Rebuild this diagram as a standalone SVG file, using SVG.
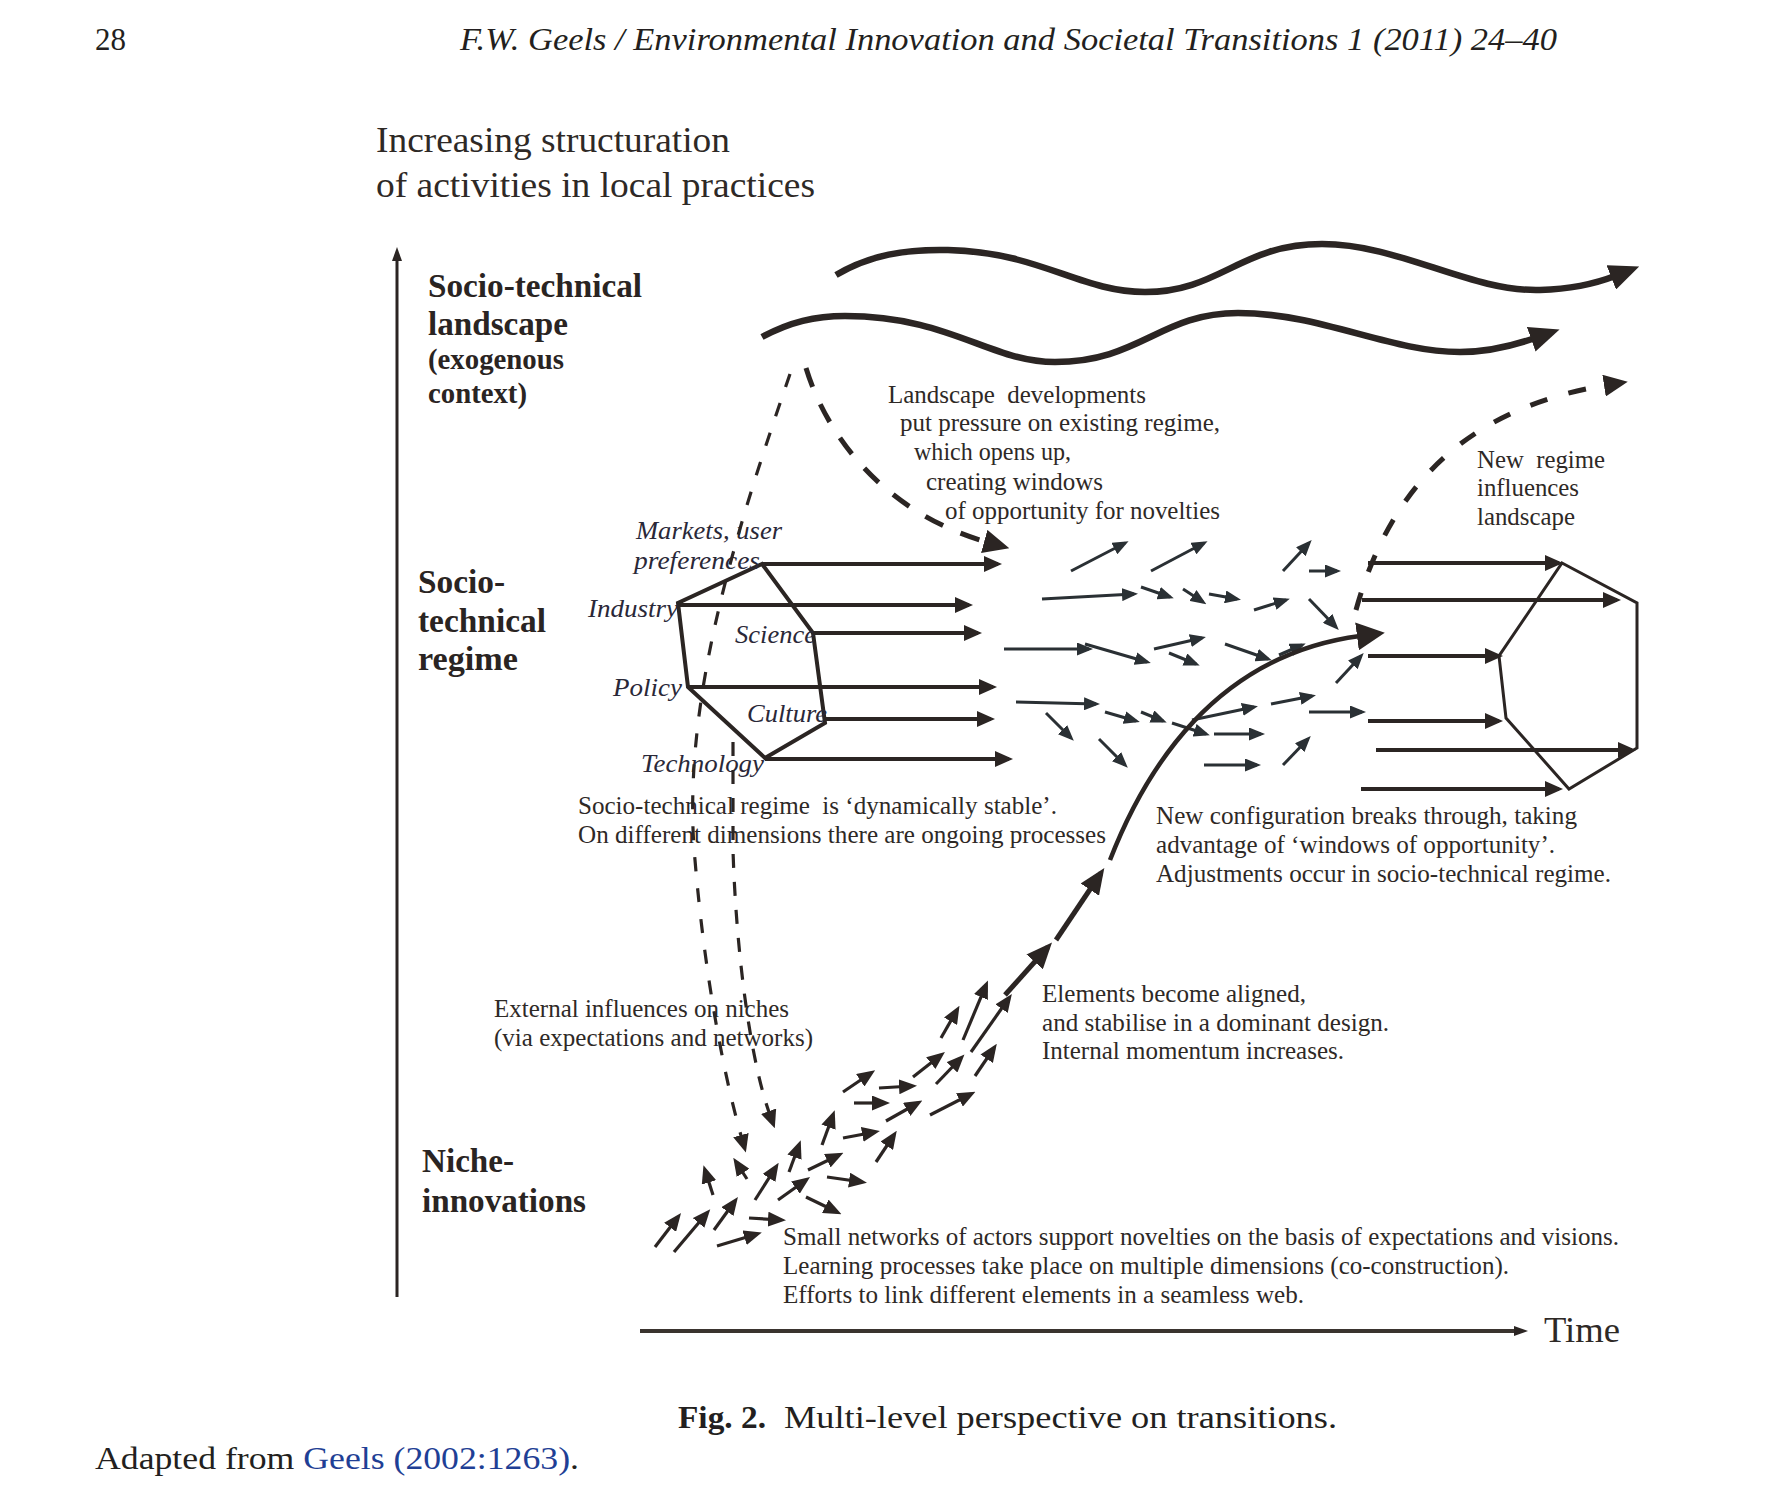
<svg xmlns="http://www.w3.org/2000/svg" width="1788" height="1503" viewBox="0 0 1788 1503">
<style>
text{font-family:"Liberation Serif","Times New Roman",serif;fill:#2e2926}
.hd{font-size:31px;fill:#231f20}
.ti{font-size:36px}
.bl{font-size:33px;font-weight:bold;fill:#2a2422}
.bs{font-size:29px;font-weight:bold;fill:#2a2422}
.lb{font-size:25px}
.it{font-size:25px;font-style:italic;fill:#2a2838}
.ln{stroke:#2b2523;stroke-width:4;fill:none}
.hx{stroke:#2b2523;stroke-width:4;fill:none;stroke-linejoin:miter}
.hx2{stroke:#2b2523;stroke-width:3;fill:none}
.ra{stroke:#2b2523;stroke-width:4;fill:none;marker-end:url(#ah)}
.sa{stroke:#2a3034;stroke-width:3;fill:none;marker-end:url(#sm)}
.na{stroke:#2b2523;stroke-width:3.2;fill:none;marker-end:url(#nm)}
.ta{stroke:#2b2523;stroke-width:5;fill:none;marker-end:url(#tm)}
.wv{stroke:#2b2523;stroke-width:6.5;fill:none;stroke-linecap:butt;marker-end:url(#wm)}
.dA{stroke:#2b2523;stroke-width:3.2;fill:none;stroke-dasharray:14 17;marker-end:url(#dm)}
.dW{stroke:#2b2523;stroke-width:5;fill:none;stroke-dasharray:20 19;marker-end:url(#bw)}
.dU{stroke:#2b2523;stroke-width:5;fill:none;stroke-dasharray:18 22;marker-end:url(#bu)}
</style>
<defs>
<marker id="ah" viewBox="0 0 18 16" markerUnits="userSpaceOnUse" markerWidth="18" markerHeight="16" refX="14" refY="8" orient="auto"><path d="M0,0 L18,8 L0,16 z" fill="#2b2523"/></marker>
<marker id="sm" viewBox="0 0 16 13" markerUnits="userSpaceOnUse" markerWidth="16" markerHeight="13" refX="12" refY="6.5" orient="auto"><path d="M0,0 L16,6.5 L0,13 z" fill="#2a3034"/></marker>
<marker id="nm" viewBox="0 0 18 15" markerUnits="userSpaceOnUse" markerWidth="18" markerHeight="15" refX="13" refY="7.5" orient="auto"><path d="M0,0 L18,7.5 L0,15 z" fill="#2b2523"/></marker>
<marker id="tm" viewBox="0 0 26 22" markerUnits="userSpaceOnUse" markerWidth="26" markerHeight="22" refX="20" refY="11" orient="auto"><path d="M0,0 L26,11 L0,22 z" fill="#2b2523"/></marker>
<marker id="cm" viewBox="0 0 28 28" markerUnits="userSpaceOnUse" markerWidth="28" markerHeight="28" refX="3" refY="14" orient="auto"><path d="M0,0 L28,14 L0,28 z" fill="#2b2523"/></marker>
<marker id="wm" viewBox="0 0 30 26" markerUnits="userSpaceOnUse" markerWidth="30" markerHeight="26" refX="4" refY="13" orient="auto"><path d="M0,0 L30,13 L0,26 z" fill="#2b2523"/></marker>
<marker id="dm" viewBox="0 0 18 16" markerUnits="userSpaceOnUse" markerWidth="18" markerHeight="16" refX="4" refY="8" orient="auto"><path d="M0,0 L18,8 L0,16 z" fill="#2b2523"/></marker>
<marker id="bw" viewBox="0 0 26 24" markerUnits="userSpaceOnUse" markerWidth="26" markerHeight="24" refX="6" refY="12" orient="auto"><path d="M0,0 L26,12 L0,24 z" fill="#2b2523"/></marker>
<marker id="bu" viewBox="0 0 24 22" markerUnits="userSpaceOnUse" markerWidth="24" markerHeight="22" refX="4" refY="11" orient="auto"><path d="M0,0 L24,11 L0,22 z" fill="#2b2523"/></marker>
<marker id="ax" viewBox="0 0 14 10" markerUnits="userSpaceOnUse" markerWidth="14" markerHeight="10" refX="3" refY="5" orient="auto"><path d="M0,0 L14,5 L0,10 z" fill="#2b2523"/></marker>
</defs>

<g id="page-header">
<text class="hd" x="95" y="50">28</text>
<text class="hd" x="460" y="50" font-style="italic" textLength="1097" lengthAdjust="spacingAndGlyphs">F.W. Geels / Environmental Innovation and Societal Transitions 1 (2011) 24–40</text>
</g>

<g id="axis-title">
<text class="ti" x="376" y="152" textLength="354" lengthAdjust="spacingAndGlyphs">Increasing structuration</text>
<text class="ti" x="376" y="197" textLength="439" lengthAdjust="spacingAndGlyphs">of activities in local practices</text>
</g>

<g id="level-landscape">
<text class="bl" x="428" y="297" textLength="214" lengthAdjust="spacingAndGlyphs">Socio-technical</text>
<text class="bl" x="428" y="335" textLength="140" lengthAdjust="spacingAndGlyphs">landscape</text>
<text class="bs" x="428" y="369" textLength="136" lengthAdjust="spacingAndGlyphs">(exogenous</text>
<text class="bs" x="428" y="403" textLength="99" lengthAdjust="spacingAndGlyphs">context)</text>
</g>

<g id="level-regime">
<text class="bl" x="418" y="593" textLength="87" lengthAdjust="spacingAndGlyphs">Socio-</text>
<text class="bl" x="418" y="632" textLength="128" lengthAdjust="spacingAndGlyphs">technical</text>
<text class="bl" x="418" y="670" textLength="100" lengthAdjust="spacingAndGlyphs">regime</text>
</g>

<g id="level-niche">
<text class="bl" x="422" y="1172" textLength="92" lengthAdjust="spacingAndGlyphs">Niche-</text>
<text class="bl" x="422" y="1212" textLength="164" lengthAdjust="spacingAndGlyphs">innovations</text>
</g>

<g id="landscape-waves">
<path class="wv" d="M836,275 C870,255 905,249 948,250 C1040,252 1080,292 1145,292 C1220,292 1240,244 1322,244 C1400,244 1470,292 1540,290 C1570,289 1592,285 1615,276"/>
<path class="wv" d="M762,337 C790,322 815,316 845,316 C950,316 990,362 1055,362 C1140,362 1160,313 1238,313 C1320,313 1390,352 1460,352 C1490,352 1515,345 1535,338"/>
</g>

<g id="regime-hexagon">
<polygon class="hx" points="762,564 813,633 825,723 765,758 688,687 678,603"/>
<text class="it" x="636" y="539" textLength="146" lengthAdjust="spacingAndGlyphs">Markets, user</text>
<text class="it" x="634" y="569" textLength="126" lengthAdjust="spacingAndGlyphs">preferences</text>
<text class="it" x="588" y="617" textLength="90" lengthAdjust="spacingAndGlyphs">Industry</text>
<text class="it" x="735" y="643" textLength="81" lengthAdjust="spacingAndGlyphs">Science</text>
<text class="it" x="613" y="696" textLength="69" lengthAdjust="spacingAndGlyphs">Policy</text>
<text class="it" x="747" y="722" textLength="80" lengthAdjust="spacingAndGlyphs">Culture</text>
<text class="it" x="641" y="772" textLength="123" lengthAdjust="spacingAndGlyphs">Technology</text>
</g>

<g id="new-regime-hexagon">
<polygon class="hx2" points="1562,563 1637,603 1637,748 1569,789 1506,718 1499,656"/>
</g>

<g id="annotations">
<text class="lb" x="888" y="403" textLength="258" lengthAdjust="spacingAndGlyphs" xml:space="preserve">Landscape  developments</text>
<text class="lb" x="900" y="431" textLength="320" lengthAdjust="spacingAndGlyphs">put pressure on existing regime,</text>
<text class="lb" x="914" y="460" textLength="157" lengthAdjust="spacingAndGlyphs">which opens up,</text>
<text class="lb" x="926" y="490" textLength="177" lengthAdjust="spacingAndGlyphs">creating windows</text>
<text class="lb" x="945" y="519" textLength="275" lengthAdjust="spacingAndGlyphs">of opportunity for novelties</text>

<text class="lb" x="1477" y="468" textLength="128" lengthAdjust="spacingAndGlyphs" xml:space="preserve">New  regime</text>
<text class="lb" x="1477" y="496" textLength="102" lengthAdjust="spacingAndGlyphs">influences</text>
<text class="lb" x="1477" y="525" textLength="98" lengthAdjust="spacingAndGlyphs">landscape</text>

<text class="lb" x="578" y="814" textLength="479" lengthAdjust="spacingAndGlyphs" xml:space="preserve">Socio-technical regime  is ‘dynamically stable’.</text>
<text class="lb" x="578" y="843" textLength="528" lengthAdjust="spacingAndGlyphs">On different dimensions there are ongoing processes</text>

<text class="lb" x="1156" y="824" textLength="421" lengthAdjust="spacingAndGlyphs">New configuration breaks through, taking</text>
<text class="lb" x="1156" y="853" textLength="399" lengthAdjust="spacingAndGlyphs">advantage of ‘windows of opportunity’.</text>
<text class="lb" x="1156" y="882" textLength="455" lengthAdjust="spacingAndGlyphs">Adjustments occur in socio-technical regime.</text>

<text class="lb" x="1042" y="1002" textLength="264" lengthAdjust="spacingAndGlyphs">Elements become aligned,</text>
<text class="lb" x="1042" y="1031" textLength="347" lengthAdjust="spacingAndGlyphs">and stabilise in a dominant design.</text>
<text class="lb" x="1042" y="1059" textLength="302" lengthAdjust="spacingAndGlyphs">Internal momentum increases.</text>

<text class="lb" x="494" y="1017" textLength="295" lengthAdjust="spacingAndGlyphs">External influences on niches</text>
<text class="lb" x="494" y="1046" textLength="319" lengthAdjust="spacingAndGlyphs">(via expectations and networks)</text>

<text class="lb" x="783" y="1245" textLength="836" lengthAdjust="spacingAndGlyphs">Small networks of actors support novelties on the basis of expectations and visions.</text>
<text class="lb" x="783" y="1274" textLength="726" lengthAdjust="spacingAndGlyphs">Learning processes take place on multiple dimensions (co-construction).</text>
<text class="lb" x="783" y="1303" textLength="521" lengthAdjust="spacingAndGlyphs">Efforts to link different elements in a seamless web.</text>

<text class="ti" x="1544" y="1342" textLength="76" lengthAdjust="spacingAndGlyphs">Time</text>
</g>

<g id="connectors">
<line class="ln" x1="397" y1="1297" x2="397" y2="258" style="stroke-width:3;marker-end:url(#ax)"/>
<line class="ln" x1="640" y1="1331" x2="1517" y2="1331" style="stroke:#3a342f;marker-end:url(#ax)"/>

<line class="ra" x1="762" y1="564" x2="998" y2="564"/>
<line class="ra" x1="678" y1="605" x2="969" y2="605"/>
<line class="ra" x1="813" y1="633" x2="978" y2="633"/>
<line class="ra" x1="688" y1="687" x2="993" y2="687"/>
<line class="ra" x1="825" y1="719" x2="991" y2="719"/>
<line class="ra" x1="765" y1="759" x2="1009" y2="759"/>

<line class="ra" x1="1368" y1="563" x2="1559" y2="563"/>
<line class="ra" x1="1362" y1="600" x2="1617" y2="600"/>
<line class="ra" x1="1368" y1="656" x2="1499" y2="656"/>
<line class="ra" x1="1368" y1="721" x2="1499" y2="721"/>
<line class="ra" x1="1376" y1="750" x2="1632" y2="750"/>
<line class="ra" x1="1361" y1="789" x2="1559" y2="789"/>

<line class="sa" x1="1071" y1="571" x2="1125" y2="543"/>
<line class="sa" x1="1151" y1="571" x2="1204" y2="543"/>
<line class="sa" x1="1283" y1="571" x2="1309" y2="543"/>
<line class="sa" x1="1309" y1="571" x2="1337" y2="571"/>
<line class="sa" x1="1042" y1="599" x2="1134" y2="594"/>
<line class="sa" x1="1141" y1="587" x2="1170" y2="597"/>
<line class="sa" x1="1183" y1="589" x2="1203" y2="602"/>
<line class="sa" x1="1209" y1="594" x2="1237" y2="599"/>
<line class="sa" x1="1254" y1="610" x2="1286" y2="600"/>
<line class="sa" x1="1309" y1="599" x2="1336" y2="627"/>
<line class="sa" x1="1004" y1="649" x2="1089" y2="649"/>
<line class="sa" x1="1085" y1="644" x2="1147" y2="662"/>
<line class="sa" x1="1154" y1="649" x2="1202" y2="638"/>
<line class="sa" x1="1169" y1="653" x2="1196" y2="664"/>
<line class="sa" x1="1225" y1="644" x2="1268" y2="659"/>
<line class="sa" x1="1279" y1="655" x2="1302" y2="645"/>
<line class="sa" x1="1336" y1="683" x2="1361" y2="656"/>
<line class="sa" x1="1016" y1="702" x2="1096" y2="704"/>
<line class="sa" x1="1105" y1="712" x2="1136" y2="721"/>
<line class="sa" x1="1141" y1="712" x2="1163" y2="721"/>
<line class="sa" x1="1172" y1="723" x2="1206" y2="734"/>
<line class="sa" x1="1192" y1="720" x2="1254" y2="707"/>
<line class="sa" x1="1271" y1="704" x2="1312" y2="696"/>
<line class="sa" x1="1309" y1="712" x2="1362" y2="712"/>
<line class="sa" x1="1046" y1="713" x2="1071" y2="738"/>
<line class="sa" x1="1214" y1="734" x2="1261" y2="734"/>
<line class="sa" x1="1099" y1="739" x2="1125" y2="765"/>
<line class="sa" x1="1204" y1="765" x2="1257" y2="765"/>
<line class="sa" x1="1283" y1="765" x2="1308" y2="739"/>

<line class="na" x1="655" y1="1247" x2="678" y2="1217"/>
<line class="na" x1="674" y1="1252" x2="707" y2="1213"/>
<line class="na" x1="714" y1="1230" x2="735" y2="1201"/>
<line class="na" x1="717" y1="1246" x2="757" y2="1234"/>
<line class="na" x1="749" y1="1218" x2="781" y2="1220"/>
<line class="na" x1="713" y1="1195" x2="705" y2="1170"/>
<line class="na" x1="747" y1="1179" x2="736" y2="1162"/>
<line class="na" x1="755" y1="1200" x2="776" y2="1167"/>
<line class="na" x1="778" y1="1200" x2="806" y2="1180"/>
<line class="na" x1="789" y1="1172" x2="799" y2="1145"/>
<line class="na" x1="808" y1="1170" x2="839" y2="1155"/>
<line class="na" x1="806" y1="1197" x2="837" y2="1212"/>
<line class="na" x1="827" y1="1177" x2="862" y2="1182"/>
<line class="na" x1="822" y1="1145" x2="833" y2="1115"/>
<line class="na" x1="843" y1="1138" x2="875" y2="1132"/>
<line class="na" x1="876" y1="1162" x2="894" y2="1135"/>
<line class="na" x1="854" y1="1103" x2="885" y2="1103"/>
<line class="na" x1="886" y1="1121" x2="918" y2="1103"/>
<line class="na" x1="843" y1="1092" x2="871" y2="1073"/>
<line class="na" x1="879" y1="1088" x2="912" y2="1086"/>
<line class="na" x1="913" y1="1077" x2="941" y2="1055"/>
<line class="na" x1="936" y1="1084" x2="961" y2="1058"/>
<line class="na" x1="930" y1="1115" x2="971" y2="1094"/>
<line class="na" x1="975" y1="1076" x2="994" y2="1048"/>
<line class="na" x1="941" y1="1038" x2="957" y2="1010"/>
<line class="na" x1="963" y1="1040" x2="986" y2="985"/>
<line class="na" x1="971" y1="1052" x2="1009" y2="998"/>

<line class="ta" x1="1005" y1="995" x2="1048" y2="947"/>
<line class="ta" x1="1056" y1="940" x2="1101" y2="873"/>
<path d="M1110,860 C1145,770 1215,655 1360,636" style="stroke:#2b2523;stroke-width:4.5;fill:none;marker-end:url(#cm)"/>

<path class="dA" d="M790,374 C740,520 680,700 695,860 C705,980 725,1080 742,1139"/>
<path class="dA" d="M733,742 L733,850 C736,950 750,1060 770,1115" style="stroke-dasharray:14 14"/>
<path class="dW" d="M806,368 C828,440 888,515 990,543"/>
<path class="dU" d="M1356,610 C1385,505 1450,410 1608,385"/>
</g>

<g id="caption">
<text class="hd" x="678" y="1428" font-weight="bold" textLength="88" lengthAdjust="spacingAndGlyphs">Fig. 2.</text>
<text class="hd" x="784" y="1428" textLength="553" lengthAdjust="spacingAndGlyphs">Multi-level perspective on transitions.</text>
<text class="hd" x="95" y="1469" textLength="484" lengthAdjust="spacingAndGlyphs">Adapted from <tspan fill="#1f3f95">Geels (2002:1263)</tspan>.</text>
</g>
</svg>
